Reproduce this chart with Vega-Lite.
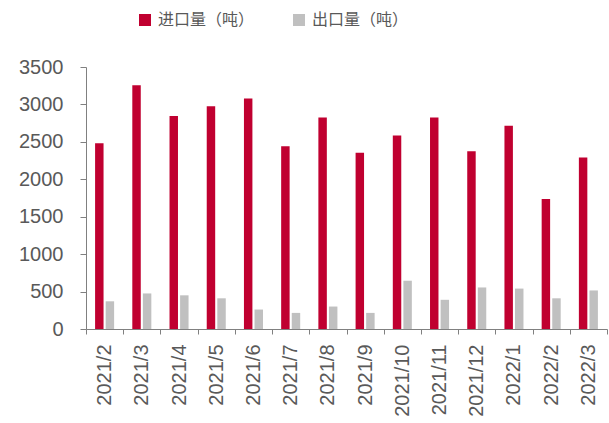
{
  "$schema": "https://vega.github.io/schema/vega-lite/v6.json",
  "autosize": "none",
  "width": 521,
  "height": 262,
  "padding": {"left": 86, "top": 67, "right": 2, "bottom": 94},
  "background": "white",
  "config": {"view": {"stroke": null}, "font": "Liberation Sans"},
  "data": {
    "values": [
      {"month": "2021/2", "type": "进口量（吨）", "value": 2480},
      {"month": "2021/2", "type": "出口量（吨）", "value": 370},
      {"month": "2021/3", "type": "进口量（吨）", "value": 3255},
      {"month": "2021/3", "type": "出口量（吨）", "value": 475},
      {"month": "2021/4", "type": "进口量（吨）", "value": 2845},
      {"month": "2021/4", "type": "出口量（吨）", "value": 450},
      {"month": "2021/5", "type": "进口量（吨）", "value": 2975},
      {"month": "2021/5", "type": "出口量（吨）", "value": 410},
      {"month": "2021/6", "type": "进口量（吨）", "value": 3080},
      {"month": "2021/6", "type": "出口量（吨）", "value": 260},
      {"month": "2021/7", "type": "进口量（吨）", "value": 2440},
      {"month": "2021/7", "type": "出口量（吨）", "value": 215},
      {"month": "2021/8", "type": "进口量（吨）", "value": 2825},
      {"month": "2021/8", "type": "出口量（吨）", "value": 300},
      {"month": "2021/9", "type": "进口量（吨）", "value": 2355},
      {"month": "2021/9", "type": "出口量（吨）", "value": 215},
      {"month": "2021/10", "type": "进口量（吨）", "value": 2585},
      {"month": "2021/10", "type": "出口量（吨）", "value": 645},
      {"month": "2021/11", "type": "进口量（吨）", "value": 2825},
      {"month": "2021/11", "type": "出口量（吨）", "value": 390},
      {"month": "2021/12", "type": "进口量（吨）", "value": 2375},
      {"month": "2021/12", "type": "出口量（吨）", "value": 555},
      {"month": "2022/1", "type": "进口量（吨）", "value": 2715},
      {"month": "2022/1", "type": "出口量（吨）", "value": 540},
      {"month": "2022/2", "type": "进口量（吨）", "value": 1735},
      {"month": "2022/2", "type": "出口量（吨）", "value": 410},
      {"month": "2022/3", "type": "进口量（吨）", "value": 2290},
      {"month": "2022/3", "type": "出口量（吨）", "value": 515}
    ]
  },
  "mark": {"type": "bar"},
  "encoding": {
    "x": {
      "field": "month",
      "type": "nominal",
      "sort": null,
      "scale": {"paddingInner": 0, "paddingOuter": 0},
      "axis": {
        "title": null,
        "labelAngle": -90,
        "labelAlign": "right",
        "labelBaseline": "middle",
        "labelFontSize": 20,
        "labelColor": "#595959",
        "labelPadding": 10,
        "tickBand": "extent",
        "tickSize": 5,
        "tickColor": "#808080",
        "domainColor": "#808080",
        "labelFont": "Liberation Sans"
      }
    },
    "xOffset": {
      "field": "type",
      "type": "nominal",
      "scale": {"domain": ["进口量（吨）", "出口量（吨）"], "paddingInner": 0.2, "paddingOuter": 0.86}
    },
    "y": {
      "field": "value",
      "type": "quantitative",
      "scale": {"domain": [0, 3500], "nice": false},
      "axis": {
        "title": null,
        "values": [0, 500, 1000, 1500, 2000, 2500, 3000, 3500],
        "format": "d",
        "grid": false,
        "labelFontSize": 20,
        "labelColor": "#595959",
        "labelPadding": 17,
        "tickSize": 6,
        "tickColor": "#808080",
        "domainColor": "#808080",
        "labelFont": "Liberation Sans"
      }
    },
    "color": {
      "field": "type",
      "type": "nominal",
      "scale": {"domain": ["进口量（吨）", "出口量（吨）"], "range": ["#C00030", "#C0C0C0"]},
      "legend": {
        "title": null,
        "orient": "none",
        "direction": "horizontal",
        "legendX": 51,
        "legendY": -55,
        "symbolType": "square",
        "symbolSize": 144,
        "symbolStrokeWidth": 0,
        "labelFont": "Noto Sans CJK SC",
        "labelFontSize": 16,
        "labelColor": "#595959",
        "labelOffset": 5,
        "columnPadding": 36
      }
    }
  }
}
